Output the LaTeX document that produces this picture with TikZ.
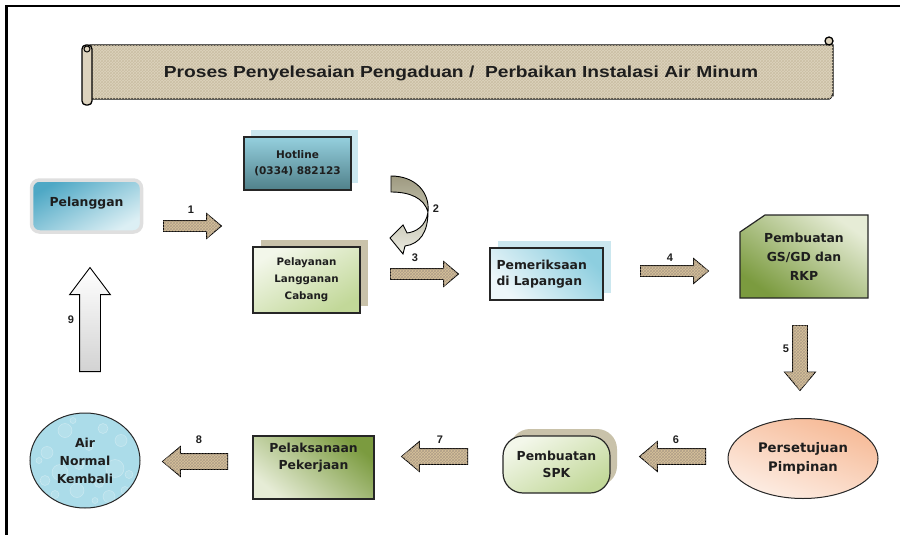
\documentclass[tikz,border=0pt]{standalone}
\usepackage{fontspec}
\setmainfont{DejaVu Sans}
\newfontfamily\numfont{Liberation Sans}
\usetikzlibrary{shapes.geometric,shapes.arrows,shapes.misc,shadows,patterns}

\definecolor{sack}{HTML}{D8C29A}
\definecolor{sackdark}{HTML}{7A5E38}
\definecolor{scroll}{HTML}{DDD3BE}
\definecolor{scrollline}{HTML}{CBBFA4}
\definecolor{teal1}{HTML}{95D0DE}
\definecolor{teal2}{HTML}{50808A}
\definecolor{teallight}{HTML}{CBE7EF}
\definecolor{lgreen1}{HTML}{F3F7EA}
\definecolor{lgreen2}{HTML}{C2D899}
\definecolor{olive}{HTML}{7B9B3F}
\definecolor{olivelight}{HTML}{E6ECD6}
\definecolor{tanshadow}{HTML}{C9C2AA}
\definecolor{peach}{HTML}{F6B995}
\definecolor{peachlight}{HTML}{FDEEE5}
\definecolor{water}{HTML}{ABDCE9}
\definecolor{blue1}{HTML}{4EA8C5}
\definecolor{blue2}{HTML}{DCEFF4}
\definecolor{sky}{HTML}{8DCEDF}
\definecolor{skylight}{HTML}{EEF7FA}
\definecolor{twist1}{HTML}{9E9A80}
\definecolor{twist2}{HTML}{ECECE2}
\definecolor{txt}{HTML}{1E1E1E}

\tikzset{
  box/.style={draw=black!85, line width=1.2pt, text=txt, align=center, inner sep=2pt,
    font=\bfseries\fontsize{12.4}{17}\selectfont},
  blkshape/.style={single arrow, draw=black, line width=0.9pt, inner sep=5pt, anchor=tail,
    single arrow head extend=7pt, single arrow tip angle=80},
  sackarrow/.style={blkshape, fill=sack, postaction={pattern=crosshatch, pattern color=sackdark!60}},
  greyarrow/.style={blkshape, top color=white, bottom color=gray!35},
  num/.style={font=\numfont\bfseries\fontsize{11}{12}\selectfont, text=txt, inner sep=0pt},
}

\begin{document}
\begin{tikzpicture}[x=1pt,y=-1pt]
\useasboundingbox (0,0) rectangle (900,535);

% frame
\draw[line width=2.5pt] (6.5,535) -- (6.5,6) -- (900,6);

% title scroll
\draw[line width=1.3pt, fill=scroll, postaction={pattern=crosshatch, pattern color=scrollline}]
  (90,45) -- (833,45) -- (833,95) to[out=90,in=0] (829,99) -- (90,99) -- cycle;
\draw[line width=1.3pt, fill=scroll] (829,41) circle (4);
\draw[line width=1.3pt, fill=scroll, rounded corners=4pt] (82,45) rectangle (92,105);
\draw[line width=1pt] (87,49) circle (3);
\node[font=\numfont\bfseries\fontsize{16}{18}\selectfont, text=txt] (title) at (461,73)
  {\scalebox{1.2}[1]{Proses Penyelesaian Pengaduan /~ Perbaikan Instalasi Air Minum}};

% boxes
\node[box, rounded corners=8pt, draw=gray!25, line width=3.5pt, minimum width=110pt,
  minimum height=52pt, top color=blue1, bottom color=blue2, shading angle=30,
  text depth=8pt] (plg) at (86.5,206) {Pelanggan};

\node[box, minimum width=107pt, minimum height=53pt, top color=teal1, bottom color=teal2,
  general shadow={fill=teallight, shadow xshift=7pt, shadow yshift=7pt},
  font=\bfseries\fontsize{10.5}{16}\selectfont] (hot) at (297.5,163.5) {Hotline\\(0334) 882123};

\node[box, minimum width=107pt, minimum height=66pt, top color=lgreen1, bottom color=lgreen2,
  shading angle=30, general shadow={fill=tanshadow, shadow xshift=8pt, shadow yshift=7pt},
  font=\bfseries\fontsize{10.3}{17}\selectfont] (ply) at (306.5,280) {Pelayanan\\Langganan\\Cabang};

\node[box, minimum width=113pt, minimum height=52pt, top color=sky, bottom color=skylight,
  shading angle=-45, general shadow={fill=teallight, shadow xshift=8pt, shadow yshift=7pt},
  text width=100pt, align=left, font=\bfseries\fontsize{12.4}{16}\selectfont]
  (prk) at (546.5,274) {Pemeriksaan\\di Lapangan};

% cut-corner box
\shade[draw=black!85, line width=1.2pt, top color=olivelight, bottom color=olive, shading angle=-35]
  (740,232) -- (765,215) -- (868,215) -- (868,298) -- (740,298) -- cycle;
\node[box, draw=none, font=\bfseries\fontsize{12.4}{19}\selectfont] (gs) at (804,256.5)
  {Pembuatan\\GS/GD dan\\RKP};

\node[box, ellipse, line width=1pt, minimum width=150pt, minimum height=80pt,
  top color=peach, bottom color=peachlight, shading angle=-20,
  font=\bfseries\fontsize{13.2}{19}\selectfont] (pst) at (803,458.5) {Persetujuan\\Pimpinan};

\node[box, rounded corners=20pt, minimum width=107pt, minimum height=57pt,
  top color=lgreen1, bottom color=lgreen2, shading angle=30,
  general shadow={fill=tanshadow, shadow xshift=7pt, shadow yshift=7pt}] (spk) at (556.5,464.5)
  {Pembuatan\\SPK};

\node[box, minimum width=121pt, minimum height=63pt, top color=olive, bottom color=olivelight,
  shading angle=-40, text depth=22pt] (plk) at (313.5,467.5) {Pelaksanaan\\Pekerjaan};

\node[box, ellipse, line width=1pt, fill=water, minimum width=110pt, minimum height=95pt,
  font=\bfseries\fontsize{12.4}{18}\selectfont,
  path picture={
    \foreach \dx/\dy/\r in {-38/-8/6, -25/12/8, -8/30/7, 14/22/5, 30/8/9, 36/-20/6,
      18/-32/5, -20/-30/7, -40/20/5, 4/-14/4, 24/36/6, -30/34/4, 44/14/4, -6/4/5,
      -12/-40/3, 40/30/4, -46/0/3, 10/40/3}
      \draw[white, opacity=.35, fill=white, fill opacity=.12, line width=.5pt]
        ([shift={(\dx,\dy)}]path picture bounding box.center) circle (\r);
  }] (air) at (85,460.5) {Air\\Normal\\Kembali};

% block arrows (placed by their tails)
\node[sackarrow, minimum height=58pt] (ar1) at (163,226) {};
\node[sackarrow, minimum height=68pt] (ar3) at (390,274) {};
\node[sackarrow, minimum height=68pt] (ar4) at (640,271) {};
\node[sackarrow, minimum height=65pt, inner sep=7pt, single arrow head extend=8pt,
  shape border rotate=270] (ar5) at (800,325) {};
\node[sackarrow, minimum height=66pt, inner sep=7.5pt, shape border rotate=180] (ar6) at (706,456.5) {};
\node[sackarrow, minimum height=66pt, inner sep=7.5pt, shape border rotate=180] (ar7) at (468,456.5) {};
\node[sackarrow, minimum height=65pt, inner sep=7.5pt, shape border rotate=180] (ar8) at (228,461.5) {};
\node[greyarrow, minimum height=104pt, inner sep=10pt, single arrow head extend=10pt,
  single arrow tip angle=74, shape border rotate=90] (ar9) at (90,372) {};

% twisted arrow from hotline to pelayanan
\draw[line width=0.9pt, top color=twist1, bottom color=twist2]
  (391,176) .. controls (415,176) and (430,192) .. (428,212)
  .. controls (426,226) and (416,232) .. (407,233) -- (403,225) -- (390,238)
  -- (403,254) -- (405,246) .. controls (420,244) and (428,232) .. (428,212)
  .. controls (424,198) and (410,192) .. (391,192) -- cycle;

% step numbers
\node[num] (n1) at (191,210) {1};
\node[num] (n2) at (436,209) {2};
\node[num] (n3) at (415,258) {3};
\node[num] (n4) at (670,258) {4};
\node[num] (n5) at (786,349) {5};
\node[num] (n6) at (676,440) {6};
\node[num] (n7) at (440,440) {7};
\node[num] (n8) at (199,440) {8};
\node[num] (n9) at (71,320) {9};
\end{tikzpicture}
\end{document}
